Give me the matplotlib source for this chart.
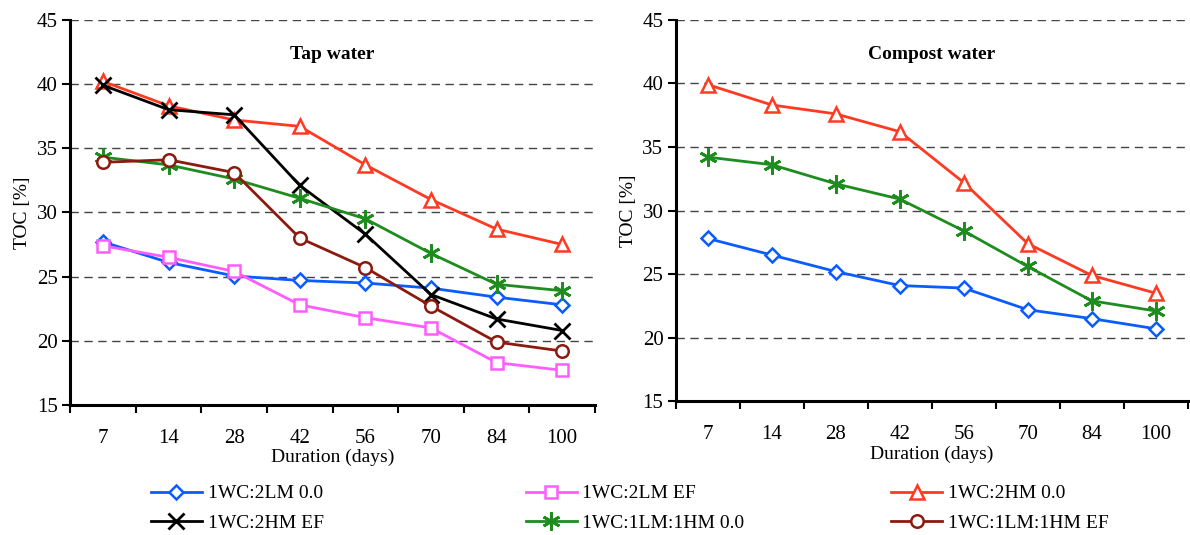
import matplotlib.pyplot as plt
import numpy as np

plt.rcParams['font.family'] = ['Liberation Serif', 'DejaVu Serif']

days = ['7', '14', '28', '42', '56', '70', '84', '100']

# tap water
tap_2lm_00 = [27.7, 26.1, 25.05, 24.7, 24.5, 24.1, 23.4, 22.8]
tap_2lm_ef = [27.4, 26.5, 25.4, 22.8, 21.8, 21.0, 18.3, 17.7]
tap_2hm_00 = [40.2, 38.3, 37.2, 36.7, 33.7, 31.0, 28.7, 27.5]
tap_2hm_ef = [39.9, 38.0, 37.6, 32.1, 28.3, 23.6, 21.7, 20.8]
tap_1lm1hm_00 = [34.3, 33.7, 32.6, 31.1, 29.5, 26.8, 24.4, 23.9]
tap_1lm1hm_ef = [33.9, 34.1, 33.1, 28.0, 25.7, 22.7, 19.9, 19.2]

# compost water
comp_2lm_00 = [27.8, 26.5, 25.2, 24.1, 23.9, 22.2, 21.5, 20.7]
comp_2hm_00 = [39.9, 38.3, 37.6, 36.2, 32.2, 27.4, 24.9, 23.5]
comp_1lm1hm_00 = [34.2, 33.6, 32.1, 30.9, 28.4, 25.6, 22.9, 22.1]

labels = ['1WC:2LM 0.0', '1WC:2LM EF', '1WC:2HM 0.0',
          '1WC:2HM EF', '1WC:1LM:1HM 0.0', '1WC:1LM:1HM EF']
colors = ['#0a5cff', '#ff5cff', '#ff3a22', '#000000', '#1e8c1e', '#8b1a0f']
markers = ['D', 's', '^', 'x', 'ast', 'o']
msizes = [7, 9, 10, 11, 13, 9]

tap = [tap_2lm_00, tap_2lm_ef, tap_2hm_00, tap_2hm_ef, tap_1lm1hm_00, tap_1lm1hm_ef]
comp = [comp_2lm_00, None, comp_2hm_00, None, comp_1lm1hm_00, None]

fig = plt.figure(figsize=(11.9, 5.35), dpi=100)
ax1 = fig.add_axes([0.059, 0.243, 0.441, 0.72])
ax2 = fig.add_axes([0.568, 0.25, 0.43, 0.713])

x = np.arange(len(days))


def draw(ax, series, title):
    handles = []
    for i, s in enumerate(series):
        if s is None:
            continue
        mk = markers[i]
        if mk == 'x':
            h, = ax.plot(x, s, color=colors[i], lw=2, marker='x', ms=msizes[i],
                         mew=2, zorder=3)
        elif mk == 'ast':
            h, = ax.plot(x, s, color=colors[i], lw=2, marker=(6, 2, 0),
                         ms=msizes[i], mew=2, zorder=3)
        else:
            h, = ax.plot(x, s, color=colors[i], lw=2, marker=mk, ms=msizes[i],
                         mfc='white', mec=colors[i], mew=1.8, zorder=3)
        handles.append((labels[i], h))
    ax.set_xlim(-0.5, 7.5)
    ax.set_ylim(15, 45)
    ax.set_yticks(range(15, 50, 5))
    ax.set_xticks(x)
    ax.set_xticklabels(days)
    ax.set_xticks(np.arange(-0.5, 8, 1), minor=True)
    ax.tick_params(axis='x', which='major', length=0, pad=17, labelsize=15)
    ax.tick_params(axis='x', which='minor', length=6, width=1.5, direction='out')
    ax.tick_params(axis='y', length=6, width=1.5, labelsize=15, pad=3)
    for yv in range(20, 50, 5):
        ax.axhline(yv, color='#444444', lw=1, ls=(0, (6, 4)), zorder=1)
    ax.spines['top'].set_visible(False)
    ax.spines['right'].set_visible(False)
    ax.spines['left'].set_linewidth(2.2)
    ax.spines['bottom'].set_linewidth(2.2)
    ax.set_ylabel('TOC [%]', fontsize=14, labelpad=4)
    ax.set_xlabel('Duration (days)', fontsize=14, labelpad=1)
    ax.text(0.5, 0.91, title, transform=ax.transAxes, ha='center', va='center',
            fontsize=14, fontweight='bold')
    return handles


hl = draw(ax1, tap, 'Tap water')
draw(ax2, comp, 'Compost water')

hd = dict(hl)
col_x = [0.127, 0.442, 0.749]
for c in range(3):
    pair = [labels[c], labels[c + 3]]
    fig.legend([hd[p] for p in pair], pair, loc='upper left',
               bbox_to_anchor=(col_x[c], 0.094), frameon=False, fontsize=14,
               handlelength=2.6, handletextpad=0.3, labelspacing=0.62,
               borderaxespad=0, borderpad=0)

fig.savefig('out.png', dpi=100)
